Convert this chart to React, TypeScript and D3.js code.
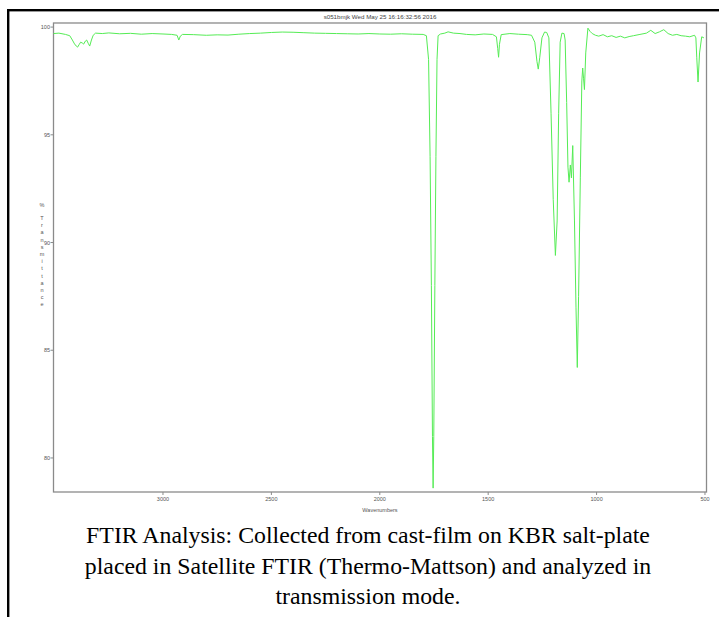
import React from 'react';
import * as d3 from 'd3';

// spectrum: wavenumber (cm-1) and % transmittance
const wavenumbers = [
  3505, 3480, 3450, 3430, 3418, 3408, 3400, 3394, 3386, 3380, 3372, 3366, 3358, 3352, 3345, 3338, 3330, 3322, 3311,
  3280, 3250, 3200, 3150, 3100, 3050, 3000, 2960, 2935, 2927, 2920, 2910, 2860, 2800, 2750, 2700, 2650, 2600,
  2550, 2500, 2450, 2400, 2350, 2300, 2250, 2200, 2150, 2100, 2050, 2000, 1950, 1900, 1850, 1800, 1785,
  1775, 1768, 1762, 1757, 1754, 1751, 1746, 1741, 1736, 1731, 1720, 1700, 1685, 1660, 1630, 1600, 1560,
  1520, 1480, 1462, 1456, 1452, 1448, 1440, 1400, 1360, 1320, 1300, 1285, 1275, 1269, 1262, 1252, 1240,
  1230, 1220, 1210, 1200, 1190, 1182, 1175, 1168, 1160, 1150, 1145, 1138, 1132, 1127, 1121, 1116, 1110,
  1102, 1095, 1089, 1083, 1075, 1068, 1064, 1060, 1056, 1050, 1040, 1030, 1020, 1005, 990, 970, 950, 930,
  910, 890, 870, 850, 830, 800, 770, 750, 730, 710, 690, 670, 650, 630, 610, 590, 570, 555, 548, 542, 538,
  532, 525, 515, 505, 495,
];
const transmittance = [
  99.70, 99.72, 99.66, 99.60, 99.40, 99.22, 99.12, 99.07, 99.20, 99.30, 99.26, 99.21, 99.35, 99.40, 99.25, 99.12, 99.40, 99.62, 99.72,
  99.70, 99.73, 99.69, 99.71, 99.67, 99.70, 99.68, 99.66, 99.62, 99.40, 99.58, 99.66, 99.65, 99.62, 99.64, 99.63, 99.67, 99.70,
  99.72, 99.75, 99.77, 99.76, 99.74, 99.72, 99.71, 99.70, 99.69, 99.68, 99.70, 99.68, 99.67, 99.69, 99.67, 99.66, 99.60,
  98.5, 94.0, 88.0, 81.0, 78.6, 81.0, 88.0, 94.0, 98.5, 99.60, 99.68, 99.72, 99.78, 99.72, 99.70, 99.66, 99.64,
  99.68, 99.66, 99.55, 99.00, 98.60, 99.20, 99.65, 99.70, 99.67, 99.65, 99.62, 99.30, 98.40, 98.05, 98.60, 99.50, 99.77,
  99.75, 99.50, 96.0, 92.0, 89.4, 91.0, 96.0, 99.3, 99.72, 99.70, 99.40, 96.5, 93.5, 92.8, 93.6, 93.0, 94.5,
  91.0, 87.0, 84.2, 87.5, 93.0, 97.5, 98.1, 97.6, 97.1, 98.8, 99.95, 99.80, 99.70, 99.62, 99.58, 99.65, 99.55, 99.60,
  99.52, 99.58, 99.50, 99.56, 99.60, 99.66, 99.72, 99.85, 99.70, 99.78, 99.88, 99.70, 99.62, 99.66, 99.60, 99.58, 99.55, 99.60, 99.62,
  99.50, 98.6, 97.45, 98.8, 99.55, 99.50,
];

const xTicks = [3000, 2500, 2000, 1500, 1000, 500];
const yTicks = [100, 95, 90, 85, 80];
const yLabelLetters = ['%', 'T', 'r', 'a', 'n', 's', 'm', 'i', 't', 't', 'a', 'n', 'c', 'e'];
const title = 's051bmjk  Wed May 25 16:16:32:56 2016';
const captionLines = [
  'FTIR Analysis: Collected from cast-film on KBR salt-plate',
  'placed in Satellite FTIR (Thermo-Mattson) and analyzed in',
  'transmission mode.',
];

const W = 719;
const H = 617;
const plot = { left: 53.5, right: 706.5, top: 23, bottom: 492 };

export default function App() {
  const x = d3.scaleLinear().domain([3505, 493]).range([plot.left, plot.right]);
  const y = d3.scaleLinear().domain([78.42, 100.19]).range([plot.bottom, plot.top]);

  const points = wavenumbers.map((w, i) => [w, transmittance[i]] as [number, number]);
  const line = d3.line<[number, number]>().x(d => x(d[0])).y(d => y(d[1]));

  const axisColor = '#8a8a8a';
  const tickText = '#555';
  const smallFont = 'Arial, "Liberation Sans", sans-serif';

  return (
    <svg width={W} height={H} style={{ position: 'absolute', left: 0, top: 0, background: '#fff' }}>
      {/* page frame */}
      <rect x={7} y={9} width={2.4} height={H - 9} fill="#000" />
      <rect x={7} y={9} width={W - 7} height={2.4} fill="#000" />

      {/* plot box */}
      <rect x={plot.left} y={plot.top} width={plot.right - plot.left} height={plot.bottom - plot.top}
        fill="none" stroke={axisColor} strokeWidth={1.3} />

      <text x={380} y={19} fontSize={6.2} fill="#444" textAnchor="middle" fontFamily={smallFont}>{title}</text>

      {yTicks.map(t => (
        <g key={t}>
          <line x1={plot.left - 3} x2={plot.left} y1={y(t)} y2={y(t)} stroke={axisColor} strokeWidth={1} />
          <text x={plot.left - 3.5} y={y(t) + 2} fontSize={5.5} fill={tickText} textAnchor="end" fontFamily={smallFont}>{t}</text>
        </g>
      ))}

      {xTicks.map(t => (
        <g key={t}>
          <line x1={x(t)} x2={x(t)} y1={plot.bottom} y2={plot.bottom + 3} stroke={axisColor} strokeWidth={1} />
          <text x={x(t)} y={plot.bottom + 9} fontSize={5.5} fill={tickText} textAnchor="middle" fontFamily={smallFont}>{t}</text>
        </g>
      ))}

      <text x={380} y={512} fontSize={5.5} fill={tickText} textAnchor="middle" fontFamily={smallFont}>Wavenumbers</text>

      {yLabelLetters.map((c, i) => (
        <text key={i} x={42} y={i === 0 ? 207 : 220 + (i - 1) * 7.2} fontSize={5.5} fill={tickText}
          textAnchor="middle" fontFamily={smallFont}>{c}</text>
      ))}

      <path d={line(points) ?? ''} fill="none" stroke="#55ec55" strokeWidth={1} />

      {captionLines.map((l, i) => (
        <text key={i} x={368} y={543 + i * 30.5} fontSize={23.8} fill="#000" textAnchor="middle"
          fontFamily='"Liberation Serif", "Times New Roman", serif'>{l}</text>
      ))}
    </svg>
  );
}
